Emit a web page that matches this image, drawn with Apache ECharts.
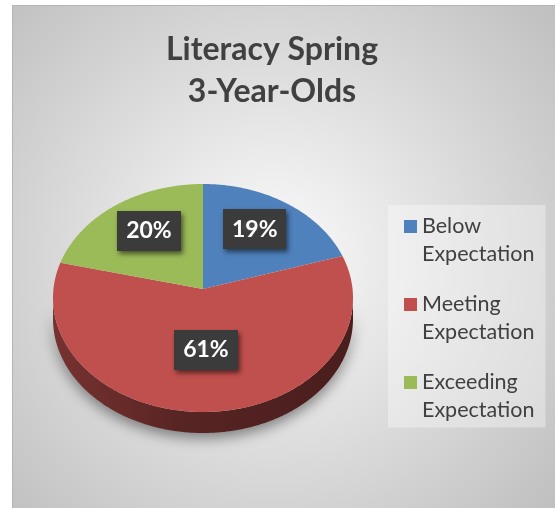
<!DOCTYPE html>
<html>
<head>
<meta charset="utf-8">
<script src="https://cdn.jsdelivr.net/npm/echarts@6/dist/echarts.min.js"></script>
<style>
  html, body { margin: 0; padding: 0; background: #fff; }
  #chart { width: 555px; height: 508px; }
</style>
</head>
<body>
<div id="chart"></div>
<script>
const categories = ['Below Expectation', 'Meeting Expectation', 'Exceeding Expectation']
const values = [19, 61, 20]
const colors = ['#4F81BD', '#C0504D', '#9BBB59']

const myChart = echarts.init(document.getElementById('chart'))
const total = values.reduce((a, b) => a + b, 0)

// pie geometry (tilted, excel-like)
const cx = 203
const cy = 298      // ellipse centre
const vy = 289      // apex of the slices (perspective)
const rx = 150
const ry = 114
const depth = 21

const shade = (hex, f) => {
  const n = parseInt(hex.slice(1), 16)
  const r = Math.round(((n >> 16) & 255) * f)
  const g = Math.round(((n >> 8) & 255) * f)
  const b = Math.round((n & 255) * f)
  return `rgb(${r},${g},${b})`
}

// dotted dark texture for the label boxes
const tex = document.createElement('canvas')
tex.width = 6
tex.height = 6
const tctx = tex.getContext('2d')
tctx.fillStyle = '#3b3b3b'
tctx.fillRect(0, 0, 6, 6)
tctx.fillStyle = '#555555'
tctx.fillRect(2, 2, 1, 1)

const arcPt = (t, dy) => [cx + rx * Math.sin(t), cy - ry * Math.cos(t) + (dy || 0)]

const makeRender = (idx) => (params, api) => {
  let before = 0
  for (let k = 0; k < idx; k++) before += values[k]
  const a0 = before / total * Math.PI * 2
  const a1 = (before + api.value(0)) / total * Math.PI * 2
  const step = 0.01
  const children = []

  // front side wall
  const s0 = Math.max(a0, Math.PI / 2)
  const s1 = Math.min(a1, Math.PI * 1.5)
  if (s1 > s0) {
    const pts = []
    for (let t = s0; t < s1; t += step) pts.push(arcPt(t))
    pts.push(arcPt(s1))
    for (let t = s1; t > s0; t -= step) pts.push(arcPt(t, depth))
    pts.push(arcPt(s0, depth))
    children.push({
      type: 'polygon',
      shape: { points: pts },
      style: {
        fill: {
          type: 'linear', x: 0, y: 0, x2: 1, y2: 0,
          colorStops: [
            { offset: 0, color: shade(colors[idx], 0.62) },
            { offset: 0.45, color: shade(colors[idx], 0.45) },
            { offset: 1, color: shade(colors[idx], 0.38) }
          ]
        },
        shadowBlur: 14,
        shadowColor: 'rgba(0,0,0,0.45)',
        shadowOffsetY: 5
      }
    })
  }

  // top face
  const top = [[cx, vy]]
  for (let t = a0; t < a1; t += step) top.push(arcPt(t))
  top.push(arcPt(a1))
  children.push({
    type: 'polygon',
    shape: { points: top },
    style: { fill: api.visual('color') }
  })

  // data label
  const m = (a0 + a1) / 2
  children.push({
    type: 'text',
    x: cx + 92 * Math.sin(m),
    y: 284 - 66 * Math.cos(m),
    style: {
      text: Math.round(api.value(0) / total * 100) + '%',
      fontFamily: 'Lato',
      fontWeight: 'bold',
      fontSize: 23,
      fill: '#fff',
      align: 'center',
      verticalAlign: 'middle',
      backgroundColor: { image: tex, repeat: 'repeat' },
      padding: [9, 9, 8, 9],
      shadowBlur: 5,
      shadowColor: 'rgba(0,0,0,0.55)',
      shadowOffsetX: 2,
      shadowOffsetY: 3
    },
    z2: 10
  })

  return { type: 'group', children }
}

const series = categories.map((name, i) => ({
  type: 'custom',
  name,
  coordinateSystem: 'none',
  data: [values[i]],
  itemStyle: { color: colors[i] },
  renderItem: makeRender(i),
  animation: false
}))

myChart.setOption({
  animation: false,
  graphic: [
    {
      type: 'rect',
      z: -10,
      shape: { x: 12.5, y: 5.5, width: 543, height: 503 },
      style: {
        fill: new echarts.graphic.RadialGradient(0.48, 0.5, 0.75, [
          { offset: 0, color: '#fbfbfb' },
          { offset: 1, color: '#bfbfbf' }
        ]),
        stroke: '#b4b4b4',
        lineWidth: 1
      },
      silent: true
    }
  ],
  title: {
    text: 'Literacy Spring\n3-Year-Olds',
    left: 272,
    top: 29,
    padding: 0,
    textAlign: 'center',
    textStyle: {
      fontFamily: 'Lato',
      fontWeight: 'bold',
      fontSize: 32,
      lineHeight: 42,
      color: '#404040'
    }
  },
  legend: {
    orient: 'vertical',
    left: 388,
    top: 205,
    padding: [7.5, 11, 3, 16],
    backgroundColor: 'rgba(255,255,255,0.35)',
    itemWidth: 13,
    itemHeight: 56,
    itemGap: 22,
    icon: 'path://M0,0L0.1,0Z M0,7.5H13V20.5H0Z M0,56L0.1,56Z',
    formatter: (name) => name.replace(' ', '\n'),
    textStyle: {
      fontFamily: 'Lato',
      fontSize: 21.5,
      lineHeight: 28,
      color: '#404040'
    },
    data: categories
  },
  series
})
</script>
</body>
</html>
